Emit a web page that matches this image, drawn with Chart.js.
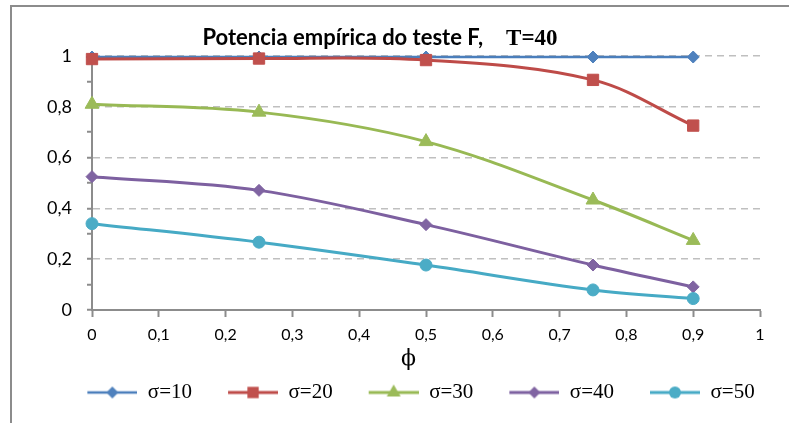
<!DOCTYPE html>
<html><head><meta charset="utf-8">
<script src="https://cdn.jsdelivr.net/npm/chart.js@4.4.0/dist/chart.umd.min.js"></script>
<style>html,body{margin:0;padding:0;background:#fff;}#wrap{width:789px;height:423px;position:relative;}</style>
</head><body><div id="wrap"><canvas id="c" width="789" height="423"></canvas></div>
<script>
// ---- data ----
const phiValues = [0, 0.25, 0.5, 0.75, 0.9];
const sigma10 = [0.996, 0.996, 0.996, 0.996, 0.996];
const sigma20 = [0.988, 0.990, 0.984, 0.906, 0.726];
const sigma30 = [0.810, 0.779, 0.663, 0.433, 0.274];
const sigma40 = [0.525, 0.471, 0.336, 0.177, 0.091];
const sigma50 = [0.340, 0.267, 0.177, 0.079, 0.045];
const seriesLabels = ['σ=10', 'σ=20', 'σ=30', 'σ=40', 'σ=50'];
const titleMain = 'Potencia empírica do teste F,';
const titleT = 'T=40';
const xAxisTitle = 'ϕ';

// ---- styles ----
const styles = [
  {line:'#4A7EBB', fill:'#4F81BD', shape:'rectRot', r:6, lw:2.5},
  {line:'#BE4B48', fill:'#C0504D', shape:'rect', r:8, lw:3},
  {line:'#98B954', fill:'#9BBB59', shape:'triangle', r:8, lw:3},
  {line:'#7D60A0', fill:'#8064A2', shape:'rectRot', r:6, lw:3},
  {line:'#46AAC5', fill:'#4BACC6', shape:'circle', r:6, lw:3}
];
const seriesValues = [sigma10, sigma20, sigma30, sigma40, sigma50];

function fmt(v){ return String(Math.round(v*10)/10).replace('.', ','); }

function drawMarker(g, shape, x, y, r){
  g.beginPath();
  if (shape === 'rectRot') { g.moveTo(x-r,y); g.lineTo(x,y-r); g.lineTo(x+r,y); g.lineTo(x,y+r); g.closePath(); }
  else if (shape === 'rect') { const s = Math.SQRT1_2*r; g.rect(x-s,y-s,2*s,2*s); }
  else if (shape === 'triangle') {
    for (let i=0;i<3;i++){ const a = i*2*Math.PI/3; const px = x+Math.sin(a)*r, py = y-Math.cos(a)*r; if(i===0) g.moveTo(px,py); else g.lineTo(px,py);} g.closePath(); }
  else { g.arc(x,y,r,0,Math.PI*2); }
  g.fill();
}
function legendImage(st){
  const c = document.createElement('canvas'); c.width = 76; c.height = 20;
  const g = c.getContext('2d');
  g.strokeStyle = st.line; g.lineWidth = st.lw;
  g.beginPath(); g.moveTo(26,10); g.lineTo(76,10); g.stroke();
  g.fillStyle = st.fill; drawMarker(g, st.shape, 51, 10, st.r);
  return c;
}

const datasets = seriesValues.map((vals, i) => ({
  label: seriesLabels[i],
  data: phiValues.map((x, j) => ({x: x, y: vals[j]})),
  borderColor: styles[i].line,
  backgroundColor: styles[i].fill,
  borderWidth: styles[i].lw,
  pointStyle: styles[i].shape,
  pointRadius: styles[i].r,
  pointBorderWidth: 1,
  pointBorderColor: styles[i].fill,
  pointBackgroundColor: styles[i].fill,
  tension: 0.35,
  clip: false,
  order: 5 - i
}));

const frame = {
  id: 'frame',
  afterLayout(chart){
    if (chart.legend) { chart.legend.left += 22; chart.legend.right += 22; }
  },
  beforeDraw(chart){
    const g = chart.ctx; g.save();
    g.strokeStyle = '#8c8c8c'; g.lineWidth = 2;
    g.beginPath(); g.moveTo(11, 430); g.lineTo(11, 6); g.lineTo(800, 6); g.stroke();
    g.restore();
  },
  afterDraw(chart){
    const g = chart.ctx; g.save();
    g.fillStyle = '#000'; g.textBaseline = 'alphabetic';
    const f1 = 'bold 22px Lato', f2 = 'bold 23px "Liberation Serif"';
    g.font = f1; const w1 = g.measureText(titleMain).width;
    g.font = f2; const w2 = g.measureText(titleT).width;
    const gap = 23; const total = w1 + gap + w2;
    const x0 = 380 - total/2;
    g.font = f1; g.fillText(titleMain, x0, 45);
    g.font = f2; g.fillText(titleT, x0 + w1 + gap, 45);
    g.restore();
  }
};

new Chart(document.getElementById('c'), {
  type: 'line',
  data: { datasets },
  plugins: [frame],
  options: {
    responsive: false,
    animation: false,
    layout: { padding: { left: 12, right: 29, top: 56, bottom: 10 } },
    plugins: {
      title: { display: false },
      tooltip: { enabled: false },
      legend: {
        position: 'bottom',
        labels: {
          usePointStyle: true,
          pointStyleWidth: 76,
          boxHeight: 20,
          padding: 10,
          color: '#000',
          font: { family: '"Liberation Serif"', size: 21 },
          generateLabels(chart){
            return chart.data.datasets.map((d, i) => ({
              text: d.label, pointStyle: legendImage(styles[i]), datasetIndex: i,
              fillStyle: styles[i].fill, strokeStyle: styles[i].line, lineWidth: 0, hidden: false, fontColor: '#000'
            }));
          }
        }
      }
    },
    scales: {
      x: {
        type: 'linear', min: 0, max: 1,
        afterFit(s){ s.height = 62; },
        ticks: { stepSize: 0.1, padding: 8, color: '#000', font: { family: 'Lato', size: 16 }, callback: v => fmt(v), maxRotation: 0, autoSkip: false },
        grid: { drawOnChartArea: false, drawTicks: true, tickLength: 7, tickColor: '#8c8c8c', tickWidth: 2 },
        border: { color: '#8c8c8c', width: 2 },
        title: { display: true, text: xAxisTitle + '\u00a0\u00a0\u00a0\u00a0\u00a0', color: '#000', font: { family: '"DejaVu Serif", "Liberation Serif"', size: 22 }, padding: { top: 0, bottom: 0 } }
      },
      y: {
        min: 0, max: 1,
        afterFit(s){ s.width = 80; },
        ticks: { stepSize: 0.1, padding: 15, color: '#000', font: { family: 'Lato', size: 18 },
          callback: v => (Math.round(v*10) % 2 === 0 ? fmt(v) : '') },
        grid: {
          color: c => (Math.round(c.tick.value*10) % 2 === 0 && c.tick.value > 0 ? '#bfbfbf' : 'rgba(0,0,0,0)'),
          lineWidth: 1.5, tickLength: 5, tickColor: '#8c8c8c', tickWidth: 2
        },
        border: { color: '#8c8c8c', width: 2, dash: [7, 5] }
      }
    }
  }
});
</script></body></html>
